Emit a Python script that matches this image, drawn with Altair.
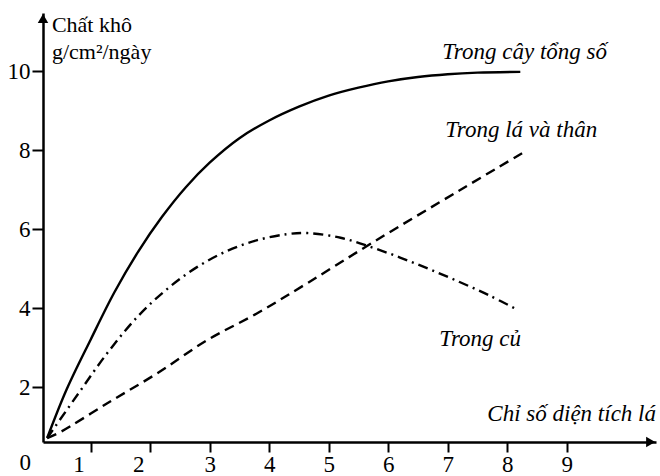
import altair as alt
import pandas as pd

# ---- data ----
total_x = [0.27, 0.6, 1.0, 1.4, 1.8, 2.2, 2.6, 3.0, 3.5, 4.0, 4.5, 5.0, 5.5, 6.0, 6.5, 7.0, 7.5, 8.22]
total_y = [0.71, 1.95, 3.2, 4.4, 5.43, 6.31, 7.06, 7.68, 8.3, 8.75, 9.1, 9.38, 9.58, 9.74, 9.85, 9.92, 9.96, 9.98]

leaf_x = [0.27, 0.49, 1.28, 2.12, 2.96, 3.80, 4.64, 5.75, 7.21, 8.25]
leaf_y = [0.71, 0.86, 1.59, 2.35, 3.19, 3.87, 4.63, 5.67, 6.99, 7.92]

tuber_x = [0.27, 0.8, 1.3, 1.8, 2.3, 2.8, 3.3, 3.8, 4.3, 4.64, 5.2, 5.7, 6.2, 6.7, 7.2, 7.7, 8.18]
tuber_y = [0.71, 1.85, 2.9, 3.8, 4.5, 5.05, 5.45, 5.72, 5.87, 5.90, 5.78, 5.55, 5.28, 4.98, 4.66, 4.32, 3.95]

x_ticks = [1, 2, 3, 4, 5, 6, 7, 8, 9]
y_ticks = [2, 4, 6, 8, 10]

series_labels = ["Trong cây tổng số", "Trong lá và thân", "Trong củ"]
y_title_lines = ["Chất khô", "g/cm²/ngày"]
x_title = "Chỉ số diện tích lá"
origin_label = "0"

# ---- annotation placement (data coordinates) ----
series_label_pos = [(6.91, 10.48), (6.96, 8.51), (6.86, 3.22)]
y_title_pos = [(0.35, 11.16), (0.35, 10.48)]
x_title_pos = (10.5, 1.32)
origin_pos = (-0.1, 0.07)

X_DOM = [0.2, 10.5]
Y_DOM = [0.61, 11.47]
FONT = "Liberation Serif"

x_axis = alt.Axis(
    values=x_ticks, title="", grid=False,
    domainColor="black", domainWidth=2.5,
    tickColor="black", tickWidth=2, tickSize=10,
    labelFont=FONT, labelFontSize=23, labelColor="black",
    labelPadding=1, labelFlush=False, labelOverlap=False,
    labelOffset={"condition": {"test": "datum.value <= 2", "value": -12}, "value": 0},
)
y_axis = alt.Axis(
    values=y_ticks, title="", grid=False,
    domainColor="black", domainWidth=2.5,
    tickColor="black", tickWidth=2, tickSize=11,
    labelFont=FONT, labelFontSize=23, labelColor="black",
    labelPadding=2, labelFlush=False, labelOverlap=False,
)

X = alt.X("x:Q", scale=alt.Scale(domain=X_DOM, nice=False, zero=False), axis=x_axis)
Y = alt.Y("y:Q", scale=alt.Scale(domain=Y_DOM, nice=False, zero=False), axis=y_axis)


def line_layer(xs, ys, dash):
    df = pd.DataFrame({"x": xs, "y": ys})
    kw = dict(color="black", strokeWidth=2.4, interpolate="catmull-rom", strokeCap="butt")
    if dash:
        kw["strokeDash"] = dash
    return alt.Chart(df).mark_line(**kw).encode(x=X, y=Y)


total = line_layer(total_x, total_y, None)
leaf = line_layer(leaf_x, leaf_y, [10, 6])
tuber = line_layer(tuber_x, tuber_y, [10, 5, 2, 5])

lab_df = pd.DataFrame({
    "x": [p[0] for p in series_label_pos],
    "y": [p[1] for p in series_label_pos],
    "t": series_labels,
})
series_text = alt.Chart(lab_df).mark_text(
    align="left", baseline="middle", font=FONT, fontSize=23,
    fontStyle="italic", color="black"
).encode(x=X, y=Y, text="t:N")

yt_df = pd.DataFrame({
    "x": [p[0] for p in y_title_pos],
    "y": [p[1] for p in y_title_pos],
    "t": y_title_lines,
})
ytitle_text = alt.Chart(yt_df).mark_text(
    align="left", baseline="middle", font=FONT, fontSize=22, color="black"
).encode(x=X, y=Y, text="t:N")

xt_df = pd.DataFrame({"x": [x_title_pos[0]], "y": [x_title_pos[1]], "t": [x_title]})
xtitle_text = alt.Chart(xt_df).mark_text(
    align="right", baseline="middle", font=FONT, fontSize=23,
    fontStyle="italic", color="black"
).encode(x=X, y=Y, text="t:N")

o_df = pd.DataFrame({"x": [origin_pos[0]], "y": [origin_pos[1]], "t": [origin_label]})
origin_text = alt.Chart(o_df).mark_text(
    align="center", baseline="middle", font=FONT, fontSize=23, color="black"
).encode(x=X, y=Y, text="t:N")

arrow_up = alt.Chart(pd.DataFrame({"x": [X_DOM[0]], "y": [Y_DOM[1] - 0.14]})).mark_point(
    shape="triangle-up", filled=True, size=110, color="black", opacity=1
).encode(x=X, y=Y)
arrow_right = alt.Chart(pd.DataFrame({"x": [X_DOM[1] - 0.09], "y": [Y_DOM[0]]})).mark_point(
    shape="triangle-right", filled=True, size=110, color="black", opacity=1
).encode(x=X, y=Y)

chart = alt.layer(
    total, leaf, tuber, series_text, ytitle_text, xtitle_text, origin_text,
    arrow_up, arrow_right,
).properties(
    width=613, height=429,
    padding={"left": 43, "top": 13, "right": 4, "bottom": 34},
    autosize=alt.AutoSizeParams(type="none"),
    background="white",
).configure_view(strokeWidth=0)

chart.save("out.html", embed_options={"renderer": "svg", "actions": False})
